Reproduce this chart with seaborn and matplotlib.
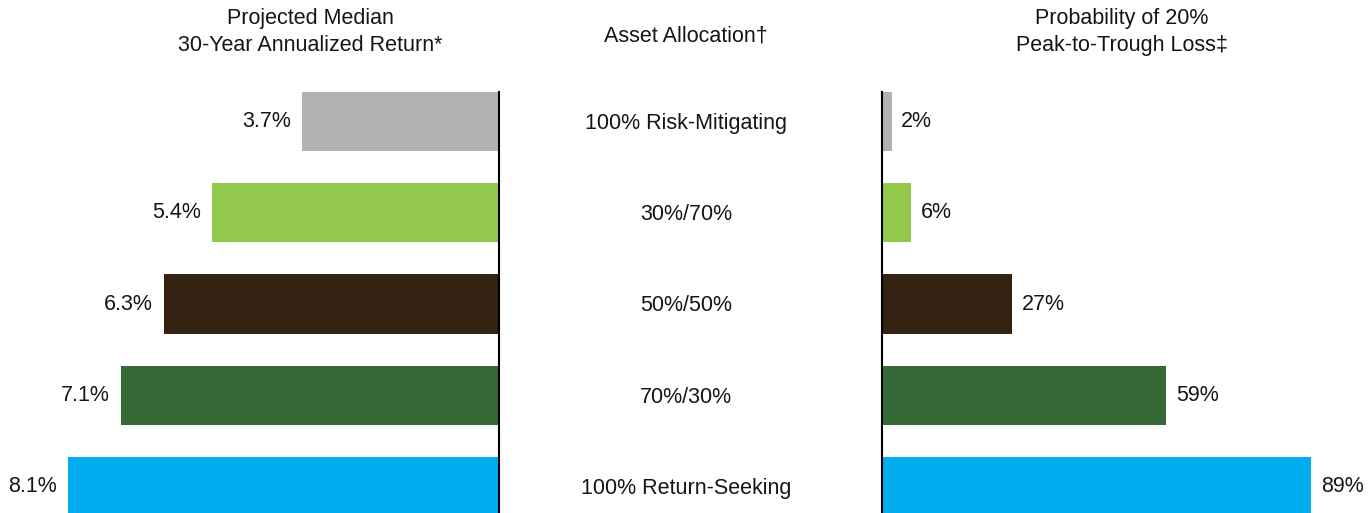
import seaborn as sns
import matplotlib.pyplot as plt
from matplotlib.transforms import blended_transform_factory

# data
allocations = ['100% Risk-Mitigating', '30%/70%', '50%/50%', '70%/30%', '100% Return-Seeking']
median_return = [3.7, 5.4, 6.3, 7.1, 8.1]
loss_prob = [2, 6, 27, 59, 89]
bar_colors = ['#B1B3B3', '#92C84B', '#342213', '#356935', '#00ADEE']

sns.set_theme(style='white')
plt.rcParams['font.family'] = ['Liberation Sans', 'DejaVu Sans']
fs = 15.5
txt = '#151515'

fig = plt.figure(figsize=(13.72, 5.13), dpi=100)
ax_l = fig.add_axes([0.0, 0.0, 499 / 1372, 0.8207])
ax_r = fig.add_axes([882 / 1372, 0.0, 490 / 1372, 0.8207])

# left panel: annualized return, bars grow leftwards
sns.barplot(x=median_return, y=allocations, hue=allocations, palette=bar_colors,
            orient='h', width=0.647, legend=False, ax=ax_l, saturation=1, linewidth=0)
ax_l.set_xlim(9.378, 0)
for c in ax_l.containers:
    ax_l.bar_label(c, fmt='%.1f%%', padding=8, fontsize=fs, color=txt)

# right panel: probability of 20% loss
sns.barplot(x=loss_prob, y=allocations, hue=allocations, palette=bar_colors,
            orient='h', width=0.647, legend=False, ax=ax_r, saturation=1, linewidth=0)
ax_r.set_xlim(0, 101.66)
for c in ax_r.containers:
    ax_r.bar_label(c, fmt='%d%%', padding=7, fontsize=fs, color=txt)

for ax in (ax_l, ax_r):
    ax.set_ylim(4.29, -0.3235)
    ax.set_xticks([])
    ax.set_yticks([])
    ax.set_xlabel('')
    ax.set_ylabel('')
    for s in ax.spines.values():
        s.set_visible(False)
ax_l.spines['right'].set_visible(True)
ax_r.spines['left'].set_visible(True)
for sp in (ax_l.spines['right'], ax_r.spines['left']):
    sp.set_color('black')
    sp.set_linewidth(1.5)

# allocation labels in the middle column
trans = blended_transform_factory(fig.transFigure, ax_l.transData)
for i, name in enumerate(allocations):
    ax_l.text(686 / 1372, i + 0.02, name, transform=trans, ha='center', va='center',
              fontsize=fs, color=txt, clip_on=False)

fig.text(310 / 1372, 0.937, 'Projected Median\n30-Year Annualized Return*',
         ha='center', va='center', fontsize=fs, color=txt, linespacing=1.38)
fig.text(686 / 1372, 0.93, 'Asset Allocation\u2020', ha='center', va='center',
         fontsize=fs, color=txt)
fig.text(1122 / 1372, 0.937, 'Probability of 20%\nPeak-to-Trough Loss\u2021',
         ha='center', va='center', fontsize=fs, color=txt, linespacing=1.38)

fig.savefig('out.png', dpi=100)
